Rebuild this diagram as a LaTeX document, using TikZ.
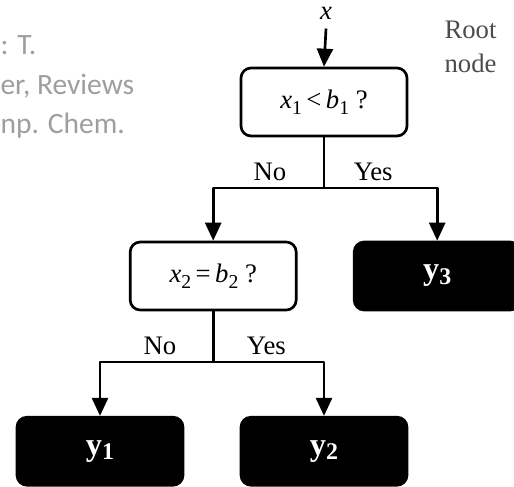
\documentclass[tikz,border=0pt]{standalone}
\usepackage{fontspec}
\setmainfont{Liberation Serif}
\newfontfamily\notefont{Carlito}
\usetikzlibrary{arrows.meta,positioning}
\newcommand{\lowsub}[1]{\raisebox{-0.45ex}{\fontsize{14}{14}\selectfont #1}}
\newcommand{\leafsub}[1]{\raisebox{-0.3ex}{\fontsize{17}{17}\selectfont #1}}

\begin{document}
\begin{tikzpicture}[font=\fontsize{19}{23}\selectfont, line width=1.9pt, line join=round,
		>={Triangle[width=0.4cm,length=0.45cm]},
		test/.style={draw, rounded corners=0.25cm, minimum width=4.15cm, minimum height=1.7cm, fill=white, inner sep=0pt},
		leaf/.style={test, fill=black, text=white, font=\fontsize{23}{27}\selectfont\bfseries},
		lbl/.style={anchor=base, inner sep=0pt},
		note/.style={anchor=base west, inner sep=0pt, text=black!38, font=\notefont\fontsize{21}{25}\selectfont}]
		\useasboundingbox (0,0) rectangle (12.85,-12.15);
		% source note, cut at the left edge
		\node[note] (n1) at (-0.02,-1.37) {: T.};
		\node[note] (n2) at (-0.02,-2.35) {er, Reviews};
		\node[note] (n3) at (-0.02,-3.33) {np. Chem.};
		% tree
		\node[test] (r) at (8.1,-2.55) {\textit{x}\lowsub{1}\,<\,\textit{b}\lowsub{1} ?};
		\node[lbl] (xin) at (8.15,-0.48) {\textit{x}};
		\node[anchor=base west, inner sep=0pt, text=black!70] (root) at (11.08,-0.95) {Root};
		\node[anchor=base west, inner sep=0pt, text=black!70] (rootb) at (11.08,-1.8) {node};
		\node[test] (q) at (5.33,-6.9) {\textit{x}\lowsub{2}\,=\,\textit{b}\lowsub{2} ?};
		\node[leaf] (y3) at (10.93,-6.9) {y\leafsub{3}};
		\node[leaf] (y1) at (2.5,-11.28) {y\leafsub{1}};
		\node[leaf] (y2) at (8.1,-11.28) {y\leafsub{2}};
		\coordinate (s1) at (r.south |- 0,-4.7);
		\coordinate (s2) at (q.south |- 0,-9.05);
		\draw[->] ([yshift=-0.2cm]xin.south) -- (r.north);
		\draw[->] (r.south) -- (s1) -| (q.north);
		\draw[->] (s1) -| (y3.north);
		\draw[->] (q.south) -- (s2) -| (y1.north);
		\draw[->] (s2) -| (y2.north);
		\node[lbl] (no1) at ([shift={(-1.35,0.2)}]s1) {No};
		\node[lbl] (yes1) at ([shift={(1.23,0.2)}]s1) {Yes};
		\node[lbl] (no2) at ([shift={(-1.33,0.2)}]s2) {No};
		\node[lbl] (yes2) at ([shift={(1.33,0.2)}]s2) {Yes};
\end{tikzpicture}
\end{document}
